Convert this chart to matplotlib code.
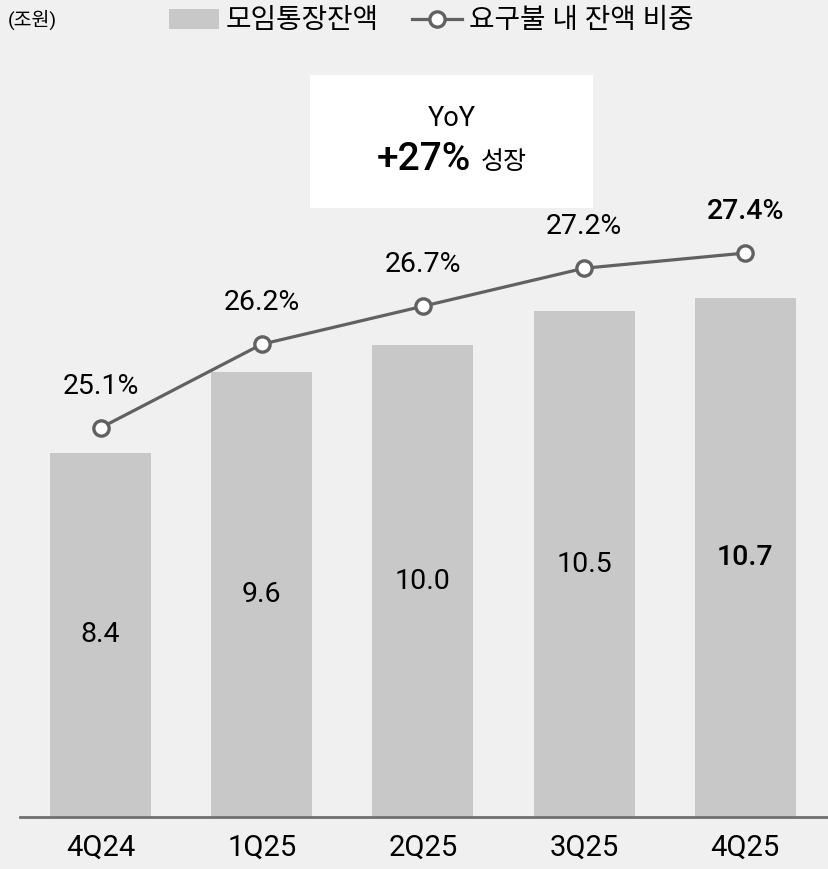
import matplotlib.pyplot as plt
from matplotlib.patches import Rectangle, Patch
from matplotlib.lines import Line2D

quarters = ['4Q24', '1Q25', '2Q25', '3Q25', '4Q25']
balance = [8.4, 9.6, 10.0, 10.5, 10.7]          # 모임통장잔액 (조원)
share = [25.1, 26.2, 26.7, 27.2, 27.4]          # 요구불 내 잔액 비중 (%)

FONT = ['Roboto', 'Noto Sans CJK KR', 'DejaVu Sans']
plt.rcParams['font.family'] = FONT

BG = '#f0f0f0'
BAR = '#c8c8c8'
LINE = '#616161'
STRONG = 'medium'

fig = plt.figure(figsize=(8.29, 8.69), dpi=100)
fig.patch.set_facecolor(BG)

ax = fig.add_axes([20 / 829, 52 / 869, 809 / 829, 757 / 869])
ax.set_facecolor(BG)
ax2 = ax.twinx()

x = list(range(len(quarters)))
ax.bar(x, balance, width=0.627, color=BAR, zorder=1)
ax.set_xlim(-0.5, 4.52)
ymin = 3.0
ax.set_ylim(ymin, 14.23)

for i, v in enumerate(balance):
    last = i == len(balance) - 1
    ax.text(i, (v + ymin) / 2, f'{v:.1f}', ha='center', va='center',
            fontsize=20.5, color='black', fontweight=STRONG if last else 'normal')

ax2.plot(x, share, color=LINE, lw=2.3, marker='o', markersize=11,
         markerfacecolor='white', markeredgecolor=LINE, markeredgewidth=2.4,
         zorder=3)
ax2.set_ylim(19.98, 29.94)
for i, v in enumerate(share):
    last = i == len(share) - 1
    ax2.annotate(f'{v:.1f}%', (i, v), xytext=(0, 30), textcoords='offset points',
                 ha='center', va='center', fontsize=20.5, color='black',
                 fontweight=STRONG if last else 'normal')

for a in (ax, ax2):
    for s in ('top', 'right', 'left'):
        a.spines[s].set_visible(False)
    a.set_yticks([])
ax2.spines['bottom'].set_visible(False)
ax.spines['bottom'].set_color('#707070')
ax.spines['bottom'].set_linewidth(2)
ax.set_xticks(x)
ax.set_xticklabels(quarters, fontsize=21)
ax.tick_params(axis='x', length=0, pad=12)

# YoY box
fig.patches.append(Rectangle((310 / 829, 1 - 208 / 869), 283 / 829, 133 / 869,
                             transform=fig.transFigure, facecolor='white',
                             edgecolor='none', zorder=0))
fig.text(452 / 829, 1 - 119 / 869, 'YoY', ha='center', va='center', fontsize=19.5)
fig.text(471 / 829, 1 - 160 / 869, '+27%', ha='right', va='center',
         fontsize=28, fontweight=STRONG)
fig.text(481 / 829, 1 - 162 / 869, '성장', ha='left', va='center', fontsize=18)

fig.text(8 / 829, 1 - 20 / 869, '(조원)', ha='left', va='center', fontsize=14)

handles = [Patch(facecolor=BAR, edgecolor='none'),
           Line2D([], [], color=LINE, lw=2.3, marker='o', markersize=11,
                  markerfacecolor='white', markeredgecolor=LINE,
                  markeredgewidth=2.4)]
fig.legend(handles, ['모임통장잔액', '요구불 내 잔액 비중'], loc='center',
           bbox_to_anchor=(431 / 829, 1 - 21 / 869), ncol=2, frameon=False,
           fontsize=20, handlelength=1.8, handletextpad=0.25, columnspacing=1.2,
           borderaxespad=0)

fig.savefig('out.png', dpi=100, facecolor=BG)
